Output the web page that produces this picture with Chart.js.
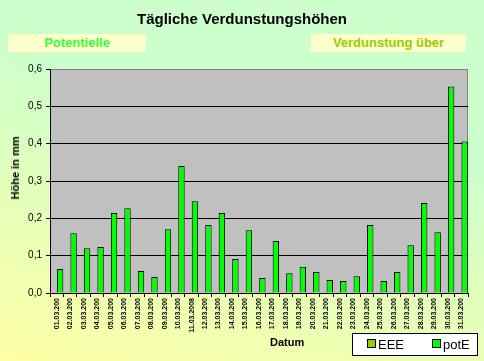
<!DOCTYPE html>
<html>
<head>
<meta charset="utf-8">
<script src="https://cdn.jsdelivr.net/npm/chart.js@4.4.1/dist/chart.umd.min.js"></script>
<style>
  html, body { margin: 0; padding: 0; }
  #wrap {
    position: relative; width: 484px; height: 361px; overflow: hidden;
    background: linear-gradient(195deg, #CCFFCC 0%, #CCFFCC 35%, #FFFFA6 100%);
    font-family: Arial, "Liberation Sans", sans-serif;
  }
  canvas { position: absolute; left: 0; top: 0; }
  .txt { position: absolute; white-space: nowrap; }
  #title { left: 0; width: 484px; top: 10px; text-align: center; font-weight: bold; font-size: 15px; color: #000; }
  .box { position: absolute; background: #FFFFCC; font-weight: bold; font-size: 13px; text-align: center; line-height: 18px; }
  #box1 { left: 8px; top: 34px; width: 138px; height: 18px; color: #33FF33; }
  #box2 { left: 311px; top: 34px; width: 155px; height: 18px; color: #99CC00; }
  #ytitle { left: 15px; top: 168px; transform: translate(-50%, -50%) rotate(-90deg); font-weight: bold; font-size: 11px; }
  #xtitle { left: 270px; top: 336px; font-weight: bold; font-size: 11px; }
  #legend {
    position: absolute; left: 352px; top: 333px; width: 124px; height: 21px;
    background: #FFFFFF; border: 1px solid #000; font-size: 13px;
  }
  .item { position: absolute; top: 3px; line-height: 15px; }
  .sw { display: inline-block; width: 7px; height: 7px; border: 1px solid #000; margin-right: 2px; vertical-align: 1px; }
</style>
</head>
<body>
<div id="wrap">
  <canvas id="myChart" width="484" height="361"></canvas>
  <div class="txt" id="title">Tägliche Verdunstungshöhen</div>
  <div class="box" id="box1">Potentielle</div>
  <div class="box" id="box2">Verdunstung über</div>
  <div class="txt" id="ytitle">Höhe in mm</div>
  <div class="txt" id="xtitle">Datum</div>
  <div id="legend"></div>
</div>
<script>
// categories (dates, shown truncated like in the original)
var days = ['01.03.200', '02.03.200', '03.03.200', '04.03.200', '05.03.200', '06.03.200',
    '07.03.200', '08.03.200', '09.03.200', '10.03.200', '11.03.2008', '12.03.200',
    '13.03.200', '14.03.200', '15.03.200', '16.03.200', '17.03.200', '18.03.200',
    '19.03.200', '20.03.200', '21.03.200', '22.03.200', '23.03.200', '24.03.200',
    '25.03.200', '26.03.200', '27.03.200', '28.03.200', '29.03.200', '30.03.200', '31.03.200'];

// potential evaporation in mm
var potE = [0.064, 0.160, 0.120, 0.123, 0.214, 0.227, 0.059, 0.043, 0.171, 0.340,
    0.246, 0.182, 0.214, 0.091, 0.168, 0.040, 0.139, 0.053, 0.070, 0.056,
    0.035, 0.032, 0.045, 0.182, 0.032, 0.056, 0.128, 0.241, 0.163, 0.553, 0.406];

// EEE series has no values in this chart (still takes its slot)
var eee = days.map(function () { return null; });

var yTicks = [0, 0.1, 0.2, 0.3, 0.4, 0.5, 0.6];

// grey plot background + frame
var plotBg = {
    id: 'plotBg',
    beforeDraw: function (chart) {
        var a = chart.chartArea, c = chart.ctx;
        c.save();
        c.fillStyle = '#C0C0C0';
        c.fillRect(a.left, a.top, a.right - a.left, a.bottom - a.top);
        c.strokeStyle = '#808080';
        c.lineWidth = 1;
        c.strokeRect(a.left + 0.5, a.top + 0.5, a.right - a.left - 1, a.bottom - a.top);
        c.restore();
    }
};

var ctx = document.getElementById('myChart').getContext('2d');
var chart = new Chart(ctx, {
    type: 'bar',
    data: {
        labels: days,
        datasets: [{
            label: 'EEE',
            data: eee,
            backgroundColor: '#99CC00',
            borderColor: '#000000',
            borderWidth: 1
        }, {
            label: 'potE',
            data: potE,
            backgroundColor: '#00FF00',
            borderColor: '#000000',
            borderWidth: 1
        }]
    },
    options: {
        responsive: false,
        animation: false,
        layout: { padding: { top: 69, right: 16, left: 0, bottom: 0 } },
        datasets: { bar: { barPercentage: 0.95, categoryPercentage: 1 } },
        plugins: {
            legend: { display: false },
            title: { display: false },
            tooltip: { enabled: false }
        },
        scales: {
            x: {
                offset: true,
                afterFit: function (s) { s.height = 68; },
                grid: { offset: true, drawOnChartArea: false, color: '#000', tickLength: 4 },
                border: { color: '#000' },
                ticks: {
                    autoSkip: false, minRotation: 90, maxRotation: 90, padding: 1,
                    color: '#000', font: { family: 'Arial', size: 7, weight: 'bold' }
                }
            },
            y: {
                min: 0, max: 0.6,
                afterFit: function (s) { s.width = 50; },
                afterBuildTicks: function (s) { s.ticks = yTicks.map(function (v) { return { value: v }; }); },
                grid: {
                    color: function (c) { return c.tick && c.tick.value >= 0.6 ? '#808080' : '#000'; },
                    tickColor: '#000', tickLength: 4
                },
                border: { color: '#000' },
                ticks: {
                    color: '#000', padding: 4,
                    font: { family: 'Arial', size: 10 },
                    callback: function (v) { return v.toFixed(1).replace('.', ','); }
                }
            }
        }
    },
    plugins: [plotBg]
});

// legend built from the datasets
var lg = document.getElementById('legend');
var xs = [14, 79];
chart.data.datasets.forEach(function (d, i) {
    var it = document.createElement('div');
    it.className = 'item';
    it.style.left = xs[i] + 'px';
    it.innerHTML = '<span class="sw" style="background:' + d.backgroundColor + '"></span>' + d.label;
    lg.appendChild(it);
});
</script>
</body>
</html>
